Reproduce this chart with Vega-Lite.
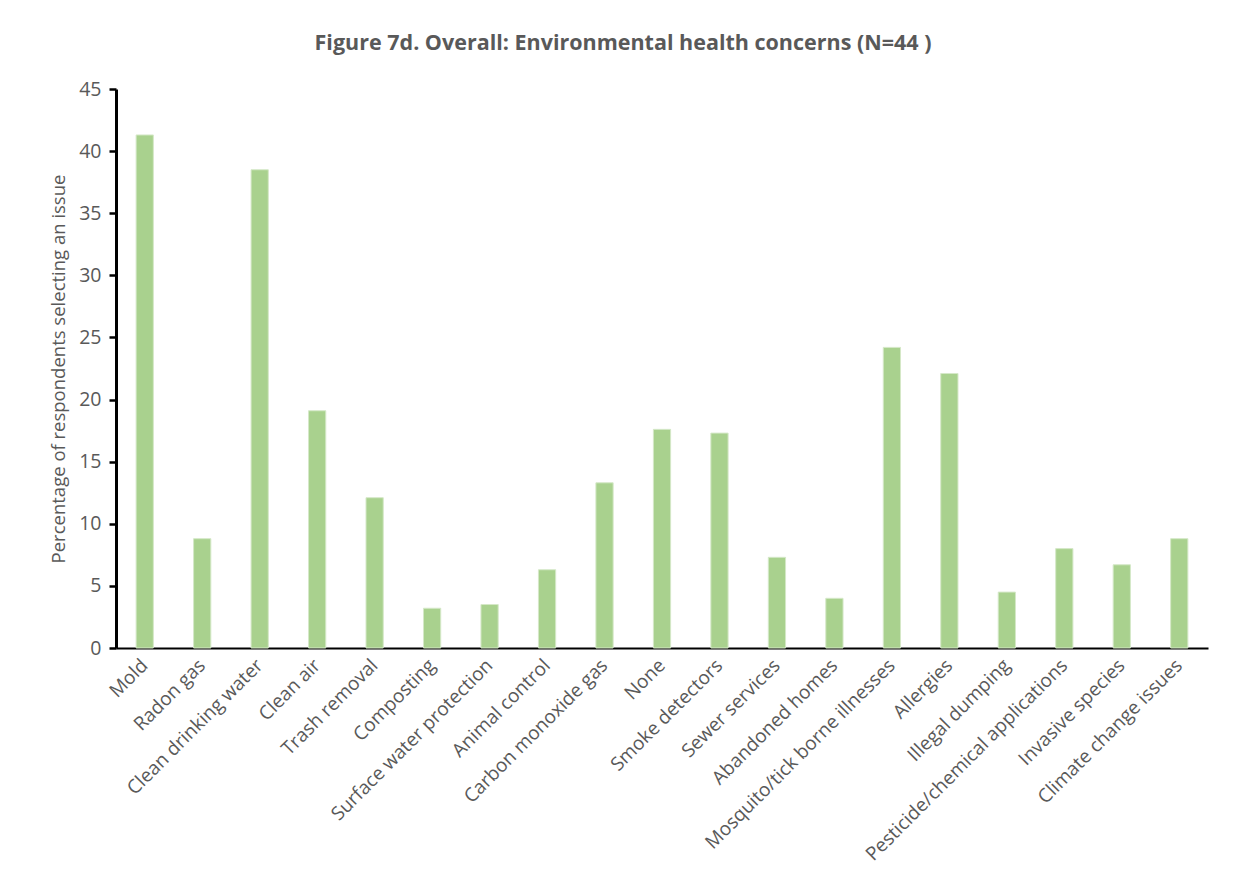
{
  "$schema": "https://vega.github.io/schema/vega-lite/v6.json",
  "width": 1092,
  "height": 559,
  "autosize": {"type": "none"},
  "padding": {"left": 116, "top": 89, "right": 25, "bottom": 238},
  "background": "white",
  "title": {
    "text": "Figure 7d. Overall: Environmental health concerns (N=44 )",
    "font": "Open Sans",
    "fontSize": 21.5,
    "fontWeight": "bold",
    "color": "#595959",
    "anchor": "middle",
    "offset": 25,
    "dx": -39
  },
  "data": {
    "values": [
      {"issue": "Mold", "pct": 41.3},
      {"issue": "Radon gas", "pct": 8.8},
      {"issue": "Clean drinking water", "pct": 38.5},
      {"issue": "Clean air", "pct": 19.1},
      {"issue": "Trash removal", "pct": 12.1},
      {"issue": "Composting", "pct": 3.2},
      {"issue": "Surface water protection", "pct": 3.5},
      {"issue": "Animal control", "pct": 6.3},
      {"issue": "Carbon monoxide gas", "pct": 13.3},
      {"issue": "None", "pct": 17.6},
      {"issue": "Smoke detectors", "pct": 17.3},
      {"issue": "Sewer services", "pct": 7.3},
      {"issue": "Abandoned homes", "pct": 4.0},
      {"issue": "Mosquito/tick borne illnesses", "pct": 24.2},
      {"issue": "Allergies", "pct": 22.1},
      {"issue": "Illegal dumping", "pct": 4.5},
      {"issue": "Pesticide/chemical applications", "pct": 8.0},
      {"issue": "Invasive species", "pct": 6.7},
      {"issue": "Climate change issues", "pct": 8.8}
    ]
  },
  "mark": {"type": "bar", "color": "#A9D18E", "stroke": "#D5E8C8", "strokeWidth": 1},
  "encoding": {
    "x": {
      "field": "issue",
      "type": "nominal",
      "sort": null,
      "scale": {"paddingInner": 0.7, "paddingOuter": 0.35},
      "axis": {
        "title": null,
        "labelAngle": -45,
        "labelAlign": "right",
        "labelBaseline": "middle",
        "labelFont": "Open Sans",
        "labelFontSize": 19,
        "labelColor": "#595959",
        "labelPadding": 14,
        "ticks": false,
        "domainColor": "black",
        "domainWidth": 2,
        "labelLimit": 400
      }
    },
    "y": {
      "field": "pct",
      "type": "quantitative",
      "scale": {"domain": [0, 45], "nice": false},
      "axis": {
        "title": "Percentage of respondents selecting an issue",
        "titleFont": "Open Sans",
        "titleFontSize": 18.5,
        "titleFontWeight": "normal",
        "titleColor": "#595959",
        "titlePadding": 10,
        "values": [0, 5, 10, 15, 20, 25, 30, 35, 40, 45],
        "grid": false,
        "labelFont": "Open Sans",
        "labelFontSize": 19.5,
        "labelColor": "#595959",
        "labelPadding": 8,
        "tickColor": "black",
        "tickWidth": 2.5,
        "tickSize": 7,
        "domainColor": "black",
        "domainWidth": 3
      }
    }
  },
  "config": {"view": {"stroke": null}}
}
